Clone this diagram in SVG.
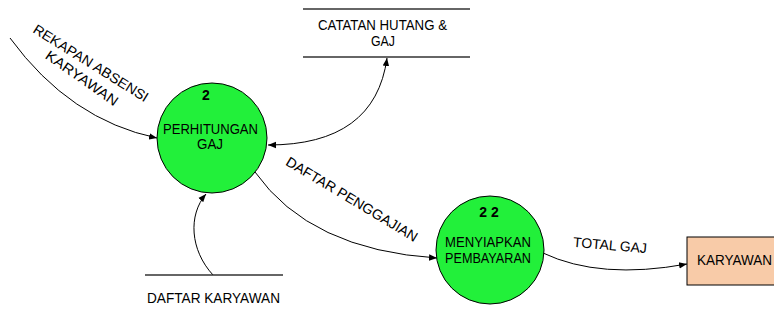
<svg xmlns="http://www.w3.org/2000/svg" width="774" height="324" viewBox="0 0 774 324">
<defs>
<marker id="arr" viewBox="0 0 10 10" refX="10" refY="5" markerWidth="8" markerHeight="8" orient="auto-start-reverse" markerUnits="userSpaceOnUse">
<path d="M0,1 L10,5 L0,9 Z" fill="#000"/>
</marker>
</defs>
<style>
text{font-family:"Liberation Sans",Arial,sans-serif;font-size:14px;fill:#000}
.c{text-anchor:middle}
.b{font-weight:bold}
.proc{fill:#22F03A;stroke:#000;stroke-width:1}
.store{stroke:#333;stroke-width:1.3}
.flow{fill:none;stroke:#000;stroke-width:1}
</style>
<rect width="774" height="324" fill="#fff"/>
<g id="connectors">
<path class="flow" d="M10,38 Q70,120 157,138" marker-end="url(#arr)"/>
<path class="flow" d="M268,145 Q375,145 387,58" marker-start="url(#arr)" marker-end="url(#arr)"/>
<path class="flow" d="M255,172 Q310,250 437,258" marker-end="url(#arr)"/>
<path class="flow" d="M543,253 Q600,280 687,264" marker-end="url(#arr)"/>
<path class="flow" d="M213,275 C190,250 188,215 206,194" marker-end="url(#arr)"/>
<text transform="translate(91,63) rotate(32)" class="c" y="5" textLength="133" lengthAdjust="spacingAndGlyphs">REKAPAN ABSENSI</text>
<text transform="translate(82,78) rotate(35)" class="c" y="5" textLength="85" lengthAdjust="spacingAndGlyphs">KARYAWAN</text>
<text transform="translate(352,199) rotate(31)" class="c" y="5" textLength="151" lengthAdjust="spacingAndGlyphs">DAFTAR PENGGAJIAN</text>
<text transform="translate(610,245) rotate(5)" class="c" y="5" textLength="74" lengthAdjust="spacingAndGlyphs">TOTAL GAJ</text>
</g>
<g id="p2">
<circle class="proc" cx="212" cy="138" r="55"/>
<text class="c b" x="206" y="100">2</text>
<text x="163" y="134" textLength="95" lengthAdjust="spacingAndGlyphs">PERHITUNGAN</text>
<text x="197" y="149" textLength="26" lengthAdjust="spacingAndGlyphs">GAJ</text>
</g>
<g id="p22">
<circle class="proc" cx="490" cy="250" r="54"/>
<text class="c b" x="489" y="217">2 2</text>
<text x="445" y="247" textLength="86" lengthAdjust="spacingAndGlyphs">MENYIAPKAN</text>
<text x="445" y="263" textLength="86" lengthAdjust="spacingAndGlyphs">PEMBAYARAN</text>
</g>
<g id="karyawan">
<rect x="687" y="237" width="92" height="48" fill="#F8CBA8" stroke="#000" stroke-width="1"/>
<text x="697" y="265" textLength="75" lengthAdjust="spacingAndGlyphs">KARYAWAN</text>
</g>
<g id="catatan">
<line class="store" x1="303" y1="9" x2="470" y2="9"/>
<line class="store" x1="303" y1="57" x2="470" y2="57"/>
<text x="318" y="30" textLength="129" lengthAdjust="spacingAndGlyphs">CATATAN HUTANG &amp;</text>
<text x="371" y="46" textLength="24" lengthAdjust="spacingAndGlyphs">GAJ</text>
</g>
<g id="daftar">
<line class="store" x1="145" y1="275" x2="283" y2="275"/>
<text x="147" y="303" textLength="133" lengthAdjust="spacingAndGlyphs">DAFTAR KARYAWAN</text>
</g>
</svg>
